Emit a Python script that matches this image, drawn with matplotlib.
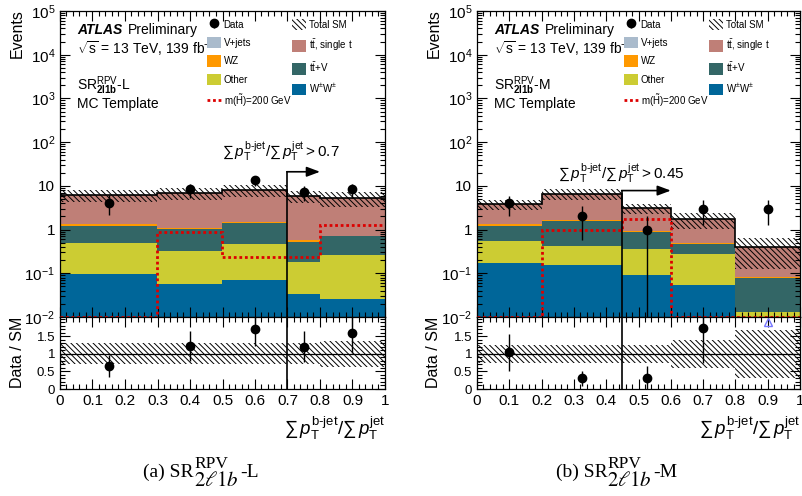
import numpy as np
import matplotlib
matplotlib.use("Agg")
import matplotlib.pyplot as plt
from matplotlib.ticker import MultipleLocator, LogLocator, FuncFormatter, NullFormatter, FixedLocator
from matplotlib.patches import Patch
from matplotlib.lines import Line2D

plt.rcParams['font.family'] = ['Liberation Sans', 'DejaVu Sans']
plt.rcParams['mathtext.fontset'] = 'custom'
plt.rcParams['mathtext.rm'] = 'Liberation Sans'
plt.rcParams['mathtext.it'] = 'Liberation Sans:italic'
plt.rcParams['mathtext.bf'] = 'Liberation Sans:bold'
plt.rcParams['hatch.linewidth'] = 0.7

# ---- SR-L ----
edges_L = [0, 0.3, 0.5, 0.7, 0.8, 1.0]
ww_L = [0.096, 0.057, 0.070, 0.034, 0.026]
other_L = [0.394, 0.263, 0.405, 0.146, 0.234]
ttv_L = [0.74, 0.70, 0.965, 0.34, 0.44]
wz_L = [0.14, 0.08, 0.06, 0.05, 0.03]
vjets_L = [0.0, 0.0, 0.0, 0.0, 0.0]
ttbar_L = [4.83, 5.7, 6.4, 5.33, 4.47]
unc_L = [0.30, 0.30, 0.30, 0.30, 0.36]
data_L = [4.1, 8.3, 13.5, 7.1, 8.3]
data_err_L = [2.0, 2.9, 3.7, 2.6, 2.9]
signal_L = [0.0102, 0.9, 0.23, 0.23, 1.27]

# ---- SR-M ----
edges_M = [0, 0.2, 0.45, 0.6, 0.8, 1.0]
ww_M = [0.17, 0.152, 0.091, 0.055, 0.0]
other_M = [0.39, 0.268, 0.269, 0.222, 0.0128]
ttv_M = [0.65, 1.15, 0.54, 0.198, 0.064]
wz_M = [0.11, 0.06, 0.03, 0.015, 0.005]
vjets_M = [0.0, 0.0, 0.0, 0.0, 0.0]
ttbar_M = [2.48, 4.87, 2.14, 1.23, 0.308]
unc_M = [0.27, 0.27, 0.25, 0.40, 0.68]
data_M = [4.0, 2.0, 1.0, 3.0, 3.0]
data_err_M = [2.0, 1.41, 1.0, 1.73, 1.73]
signal_M = [0.0102, 1.0, 1.72, 0.0102, 0.0102]

c_ww = '#006699'
c_other = '#cccc33'
c_ttv = '#336666'
c_wz = '#ff9900'
c_vjets = '#aabbcc'
c_ttbar = '#bf7f77'
c_sig = '#dd0000'
HATCH = '\\' * 6

W, H = 803, 496
fig = plt.figure(figsize=(W / 100, H / 100), dpi=100)


def fx(x):
    return x / W


def fy(y):
    return 1 - y / H


def log_fmt(v, pos):
    e = int(round(np.log10(v)))
    if e == 0:
        return '1'
    if e == 1:
        return '10'
    return r'$10^{%d}$' % e


def style_ticks(ax, size=11):
    ax.tick_params(which='both', direction='in', top=True, right=True, labelsize=size)
    ax.tick_params(which='major', length=7, width=0.8)
    ax.tick_params(which='minor', length=3.5, width=0.8)
    for s in ax.spines.values():
        s.set_linewidth(0.9)


def draw_panel(axm, axr, x0, edges, comps, unc, data, derr, signal, cut, arrow_end, arrow_y,
               cut_label, label_xy, region):
    edges = np.array(edges)
    centers = 0.5 * (edges[1:] + edges[:-1])
    base = np.zeros(len(edges) - 1)
    for vals, col in comps:
        top = base + np.array(vals)
        axm.stairs(top, edges, baseline=base.copy(), fill=True, color=col, lw=0, zorder=1)
        base = top
    total = base
    unc = np.array(unc)
    axm.stairs(total * (1 + unc), edges, baseline=total * (1 - unc), fill=True,
               facecolor='none', edgecolor='black', hatch=HATCH, lw=0, zorder=2)
    axm.stairs(total, edges, baseline=None, color='black', lw=1.2, zorder=3)
    axm.stairs(signal, edges, baseline=None, color=c_sig, lw=2, ls=(0, (1, 1)), zorder=4)
    data = np.array(data)
    derr = np.array(derr)
    eb = axm.errorbar(centers, data, yerr=[np.minimum(derr, data - 1e-3), derr], fmt='o', color='black',
                      ms=6, elinewidth=1, capsize=0, zorder=6)

    # cut marker
    axm.plot([cut, cut], [1e-2, arrow_y], color='black', lw=1.2, zorder=5)
    axm.annotate('', xy=(arrow_end, arrow_y), xytext=(cut - 0.002, arrow_y),
                 arrowprops=dict(arrowstyle='-|>,head_length=0.8,head_width=0.3', color='black', lw=1.2,
                                 shrinkA=0, shrinkB=0), zorder=5)
    axm.text(label_xy[0], label_xy[1], cut_label, fontsize=11, ha='left', va='center')

    axm.set_yscale('log')
    axm.set_xlim(0, 1)
    axm.set_ylim(1e-2, 1e5)
    axm.yaxis.set_major_locator(LogLocator(base=10, numticks=10))
    axm.yaxis.set_minor_locator(LogLocator(base=10, subs=np.arange(2, 10), numticks=20))
    axm.yaxis.set_major_formatter(FuncFormatter(log_fmt))
    axm.yaxis.set_minor_formatter(NullFormatter())
    axm.xaxis.set_major_locator(MultipleLocator(0.1))
    axm.xaxis.set_minor_locator(MultipleLocator(0.02))
    axm.tick_params(labelbottom=False)
    style_ticks(axm)

    # texts
    axm.text(0.052, 0.938, 'ATLAS', transform=axm.transAxes, fontsize=10, fontweight='bold',
             fontstyle='italic', va='center')
    axm.text(0.209, 0.938, 'Preliminary', transform=axm.transAxes, fontsize=10, va='center')
    axm.text(0.052, 0.878, r'$\sqrt{\mathrm{s}}$ = 13 TeV, 139 fb$^{-1}$', transform=axm.transAxes,
             fontsize=10, va='center')
    axm.text(0.052, 0.755, r'SR$^{\mathrm{RPV}}_{\mathbf{2l1b}}$-' + region, transform=axm.transAxes,
             fontsize=10, va='center')
    axm.text(0.052, 0.695, 'MC Template', transform=axm.transAxes, fontsize=10, va='center')

    # legend, two columns placed separately
    col1_h = [eb, Patch(facecolor=c_vjets), Patch(facecolor=c_wz), Patch(facecolor=c_other),
              Line2D([], [], color=c_sig, lw=2, ls=(0, (1, 1)))]
    col1_l = ['Data', 'V+jets', 'WZ', 'Other', r'm($\tilde{\mathrm{H}}$)=200 GeV']
    col2_h = [Patch(facecolor='none', edgecolor='black', hatch=HATCH, lw=0),
              Patch(facecolor=c_ttbar), Patch(facecolor=c_ttv), Patch(facecolor=c_ww)]
    col2_l = ['Total SM', r't$\bar{\mathrm{t}}$, single t', r't$\bar{\mathrm{t}}$+V', r'W$^{\pm}$W$^{\pm}$']
    kw = dict(loc='upper left', frameon=False, fontsize=7, handlelength=1.45, handleheight=1.4,
              labelspacing=0.72, handletextpad=0.25, borderaxespad=0, borderpad=0,
              bbox_transform=fig.transFigure)
    leg1 = axm.legend(col1_h, col1_l, bbox_to_anchor=(fx(x0 + 147), fy(19)), **kw)
    axm.add_artist(leg1)
    axm.legend(col2_h, col2_l, bbox_to_anchor=(fx(x0 + 232), fy(19)), **kw)

    # ratio
    ratio = data / total
    rerr = derr / total
    axr.stairs(1 + unc, edges, baseline=1 - unc, fill=True, facecolor='none', edgecolor='black',
               hatch=HATCH, lw=0, zorder=1)
    axr.axhline(1, color='black', lw=0.9, zorder=2)
    axr.axvline(cut, color='black', lw=1.2, zorder=3)
    inr = ratio < 2.05
    axr.errorbar(centers[inr], ratio[inr], yerr=[np.minimum(rerr[inr], ratio[inr]), rerr[inr]], fmt='o',
                 color='black', ms=6, elinewidth=1, capsize=0, zorder=5)
    if (~inr).any():
        axr.plot(centers[~inr], np.full((~inr).sum(), 1.92), marker='^', ls='none', mfc='none',
                 mec='#7777ff', ms=6, mew=1, zorder=5)
    axr.set_xlim(0, 1)
    axr.set_ylim(0, 2.057)
    axr.yaxis.set_major_locator(FixedLocator([0, 0.5, 1, 1.5]))
    axr.yaxis.set_minor_locator(MultipleLocator(0.1))
    axr.xaxis.set_major_locator(MultipleLocator(0.1))
    axr.xaxis.set_minor_locator(MultipleLocator(0.02))
    axr.xaxis.set_major_formatter(FuncFormatter(lambda v, p: '%g' % round(v, 2)))
    axr.yaxis.set_major_formatter(FuncFormatter(lambda v, p: '%g' % v))
    style_ticks(axr, 9.5)
    axr.tick_params(axis='x', labelsize=11)


def px_axes(x0, x1, ytop, ybot):
    return fig.add_axes([fx(x0), fy(ybot), (x1 - x0) / W, (ybot - ytop) / H])


axm_L = px_axes(60, 385, 11, 317)
axr_L = px_axes(60, 385, 317, 389)
axm_R = px_axes(477, 800, 11, 317)
axr_R = px_axes(477, 800, 317, 389)

xlab = (r'$\sum\, p_{\mathrm{T}}^{\mathrm{b' + '\u2010' + r'jet}}/\sum\, p_{\mathrm{T}}^{\mathrm{jet}}')

draw_panel(axm_L, axr_L, 60, edges_L,
           [(ww_L, c_ww), (other_L, c_other), (ttv_L, c_ttv), (wz_L, c_wz), (vjets_L, c_vjets), (ttbar_L, c_ttbar)],
           unc_L, data_L, data_err_L, signal_L, 0.7, 0.8, 21,
           xlab + r' > 0.7$', (0.5, 62), 'L')
draw_panel(axm_R, axr_R, 477, edges_M,
           [(ww_M, c_ww), (other_M, c_other), (ttv_M, c_ttv), (wz_M, c_wz), (vjets_M, c_vjets), (ttbar_M, c_ttbar)],
           unc_M, data_M, data_err_M, signal_M, 0.45, 0.6, 7.8,
           xlab + r' > 0.45$', (0.25, 19), 'M')

for x in (17, 434):
    fig.text(fx(x), fy(9), 'Events', rotation=90, ha='center', va='top', fontsize=11.5)
    fig.text(fx(x), fy(317), 'Data / SM', rotation=90, ha='center', va='top', fontsize=11.5)

fig.text(fx(385), fy(428), xlab + '$', ha='right', va='center', fontsize=13.5)
fig.text(fx(800), fy(428), xlab + '$', ha='right', va='center', fontsize=13.5)

# captions, pieced together so the scripts keep the paper's size
for x0, tag, reg in ((143, '(a)', 'L'), (556, '(b)', 'M')):
    serif = dict(family='Liberation Serif', va='baseline', ha='left')
    fig.text(fx(x0), fy(477), tag + ' SR', fontsize=14, **serif)
    fig.text(fx(x0 + 51), fy(468), 'RPV', fontsize=12.5, **serif)
    fig.text(fx(x0 + 51), fy(486), r'$2\ell 1b$', fontsize=15, math_fontfamily='stix', **serif)
    fig.text(fx(x0 + 97), fy(477), '-' + reg, fontsize=14, **serif)

fig.savefig('out.png', dpi=100)
